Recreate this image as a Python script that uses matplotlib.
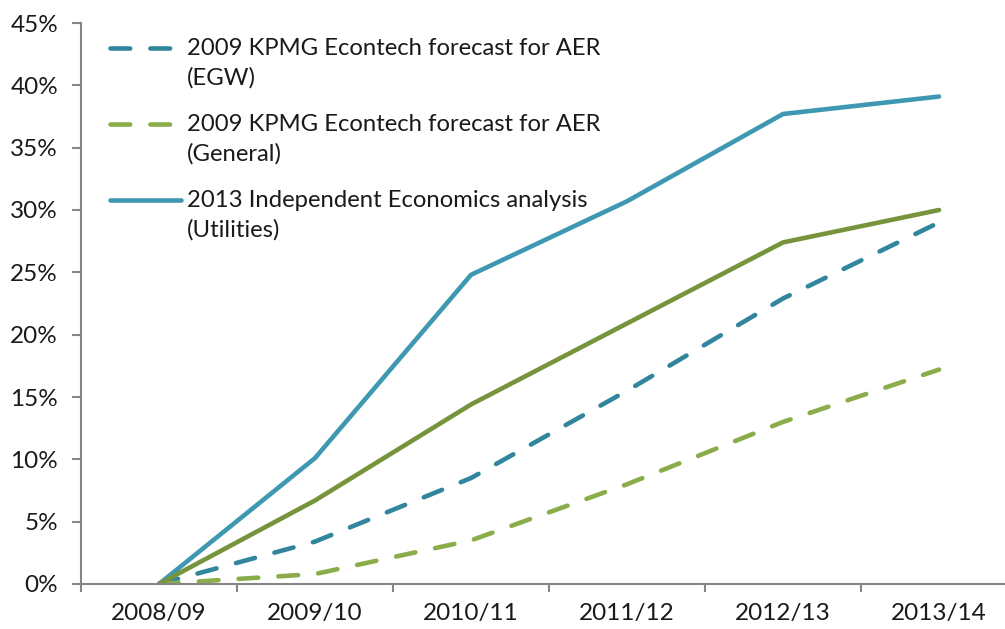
import numpy as np
import matplotlib

matplotlib.use("Agg", force=True)
import matplotlib.pyplot as plt
from matplotlib.legend_handler import HandlerLine2D
from matplotlib.ticker import FuncFormatter

years = ["2008/09", "2009/10", "2010/11", "2011/12", "2012/13", "2013/14"]
kpmg_egw = [0.0, 3.4, 8.5, 15.5, 22.9, 29.0]
kpmg_general = [0.0, 0.8, 3.5, 8.0, 13.0, 17.2]
ie_utilities = [0.0, 10.1, 24.8, 30.7, 37.7, 39.1]
ie_general = [0.0, 6.7, 14.4, 20.9, 27.4, 30.0]

labels = [
    "2009 KPMG Econtech forecast for AER\n(EGW)",
    "2009 KPMG Econtech forecast for AER\n(General)",
    "2013 Independent Economics analysis\n(Utilities)",
]

plt.rcParams["font.family"] = ["Lato", "DejaVu Sans"]

axis_color = "#868686"
text_color = "#1a1a1a"
blue_dash = "#31859C"
green_dash = "#8AAD4A"
blue_solid = "#3F98B1"
green_solid = "#77933C"


class FirstLineHandler(HandlerLine2D):
    """Put the legend key level with the first line of a two-line label."""

    def __init__(self, shift, **kw):
        super().__init__(**kw)
        self.shift = shift

    def create_artists(self, legend, orig_handle, xdescent, ydescent, width, height,
                       fontsize, trans):
        artists = super().create_artists(legend, orig_handle, xdescent, ydescent,
                                         width, height, fontsize, trans)
        for a in artists:
            a.set_ydata(np.asarray(a.get_ydata(), dtype=float) + self.shift)
        return artists


fig = plt.figure(figsize=(10.05, 6.29), dpi=100)
ax = fig.add_axes([81 / 1005, 45 / 629, 936 / 1005, 561 / 629])

x = np.arange(len(years))
dash = (0, (4.3, 4.4))
lw = 3.3

h1, = ax.plot(x, kpmg_egw, color=blue_dash, lw=lw, linestyle=dash, dash_capstyle="round",
              solid_capstyle="round", label=labels[0])
h2, = ax.plot(x, kpmg_general, color=green_dash, lw=lw, linestyle=dash, dash_capstyle="round",
              solid_capstyle="round", label=labels[1])
h3, = ax.plot(x, ie_utilities, color=blue_solid, lw=lw, solid_capstyle="round", label=labels[2])
ax.plot(x, ie_general, color=green_solid, lw=lw, solid_capstyle="round", label="_nolegend_")

ax.set_xlim(-0.5, len(years) - 0.5)
ax.set_ylim(0, 45)
ax.set_yticks(np.arange(0, 46, 5))
ax.yaxis.set_major_formatter(FuncFormatter(lambda v, _: f"{v:.0f}%"))
ax.set_xticks(x)
ax.set_xticklabels(years)
ax.set_xticks(np.arange(-0.5, len(years), 1.0), minor=True)

for side in ("top", "right"):
    ax.spines[side].set_visible(False)
for side in ("left", "bottom"):
    ax.spines[side].set_color(axis_color)
    ax.spines[side].set_linewidth(1.5)

ax.tick_params(axis="y", direction="out", length=6.5, width=1.5, color=axis_color,
               labelsize=17.5, pad=10, labelcolor=text_color)
ax.tick_params(axis="x", which="major", length=0, labelsize=17.5, pad=14, labelcolor=text_color)
ax.tick_params(axis="x", which="minor", direction="out", length=6, width=1.5, color=axis_color)

handler = FirstLineHandler(11.0)
leg = ax.legend(
    [h1, h2, h3],
    labels,
    loc="upper left",
    bbox_to_anchor=(0.0075, 1.012),
    frameon=False,
    fontsize=17.2,
    handlelength=3.0,
    handletextpad=0.25,
    labelspacing=1.03,
    handler_map={h1: handler, h2: handler, h3: handler},
)
for t in leg.get_texts():
    t.set_color(text_color)
    t.set_linespacing(1.5)

fig.savefig("out.png", dpi=100)
plt.close(fig)
